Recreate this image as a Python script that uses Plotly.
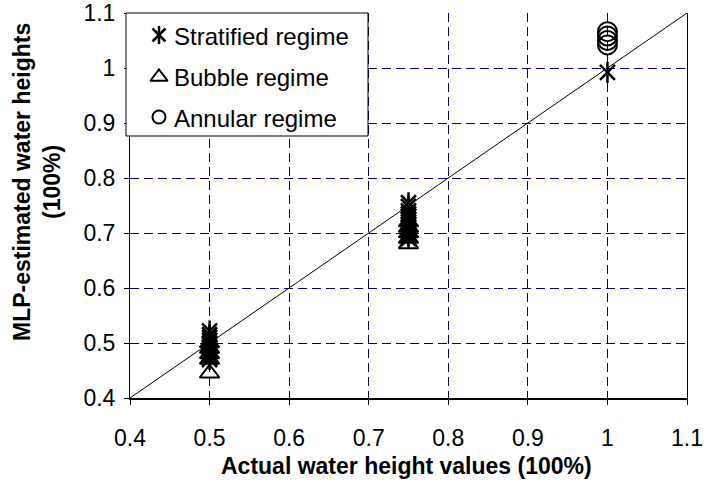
import plotly.graph_objects as go

# ---------------- data ----------------
strat_x = [0.5] * 12 + [0.75] * 13 + [1.0]
strat_y = [0.470, 0.475, 0.480, 0.485, 0.490, 0.493, 0.497, 0.500, 0.505, 0.510, 0.515, 0.522,
           0.690, 0.695, 0.700, 0.705, 0.710, 0.715, 0.720, 0.725, 0.730, 0.735, 0.740, 0.748, 0.755,
           0.992]
bubble_x = [0.5] * 5 + [0.75] * 5
bubble_y = [0.445, 0.470, 0.480, 0.490, 0.500,
            0.680, 0.690, 0.700, 0.710, 0.720]
annular_x = [1.0] * 4
annular_y = [1.042, 1.050, 1.058, 1.066]
ideal_x = [0.4, 1.1]
ideal_y = [0.4, 1.1]
x_ticks = [0.4, 0.5, 0.6, 0.7, 0.8, 0.9, 1.0, 1.1]
y_ticks = [0.4, 0.5, 0.6, 0.7, 0.8, 0.9, 1.0, 1.1]
legend_names = ["Stratified regime", "Bubble regime", "Annular regime"]

# ---------------- layout constants ----------------
W, H = 706, 486
PL, PR, PT, PB = 130, 687, 13, 398
FONT = "Liberation Sans, Arial, sans-serif"
GRID = "#000080"
INK = "black"


def px(x):
    return x / W


def py(y):
    return 1 - y / H


fig = go.Figure()

fig.add_trace(go.Scatter(x=ideal_x, y=ideal_y, mode="lines",
                         line=dict(color=INK, width=1), showlegend=False,
                         hoverinfo="skip"))
# stratified: six-armed star = X + vertical bar
for sym in ("x-thin-open", "line-ns-open"):
    fig.add_trace(go.Scatter(x=strat_x, y=strat_y, mode="markers", showlegend=False,
                             marker=dict(symbol=sym, size=15, color=INK,
                                         line=dict(color=INK, width=2.5))))
fig.add_trace(go.Scatter(x=bubble_x, y=bubble_y, mode="markers", showlegend=False,
                         marker=dict(symbol="triangle-up-open", size=17, color=INK,
                                     line=dict(color=INK, width=2))))
fig.add_trace(go.Scatter(x=annular_x, y=annular_y, mode="markers", showlegend=False,
                         marker=dict(symbol="circle-open", size=19, color=INK,
                                     line=dict(color=INK, width=2))))

# ---------- manual legend on a pixel-space overlay subplot ----------
leg_x = 159
leg_rows = [35, 76, 117]
for sym in ("x-thin-open", "line-ns-open"):
    fig.add_trace(go.Scatter(x=[leg_x], y=[leg_rows[0]], xaxis="x2", yaxis="y2", mode="markers",
                             showlegend=False, hoverinfo="skip",
                             marker=dict(symbol=sym, size=13, color=INK,
                                         line=dict(color=INK, width=2.5))))
fig.add_trace(go.Scatter(x=[leg_x], y=[leg_rows[1] + 1], xaxis="x2", yaxis="y2", mode="markers",
                         showlegend=False, hoverinfo="skip",
                         marker=dict(symbol="triangle-up-open", size=15, color=INK,
                                     line=dict(color=INK, width=2))))
fig.add_trace(go.Scatter(x=[leg_x], y=[leg_rows[2]], xaxis="x2", yaxis="y2", mode="markers",
                         showlegend=False, hoverinfo="skip",
                         marker=dict(symbol="circle-open", size=13, color=INK,
                                     line=dict(color=INK, width=2))))

annotations = []
for name, ry in zip(legend_names, leg_rows):
    annotations.append(dict(text=name, x=px(172), y=py(ry + 1), xref="paper", yref="paper",
                            xanchor="left", yanchor="middle", showarrow=False,
                            font=dict(family=FONT, size=24, color=INK)))
annotations.append(dict(text="<b>Actual water height values (100%)</b>",
                        x=px(406), y=py(466), xref="paper", yref="paper",
                        xanchor="center", yanchor="middle", showarrow=False,
                        font=dict(family=FONT, size=23, color=INK)))
annotations.append(dict(text="<b>MLP-estimated water heights<br>(100%)</b>",
                        x=px(37), y=py(182), xref="paper", yref="paper", textangle=-90,
                        xanchor="center", yanchor="middle", showarrow=False,
                        font=dict(family=FONT, size=23, color=INK)))

shapes = [
    dict(type="rect", xref="x2", yref="y2", x0=126, x1=368, y0=13, y1=136,
         line=dict(color=INK, width=1), fillcolor="white", layer="between"),
]

axis_font = dict(family=FONT, size=23, color=INK)
fig.update_layout(
    width=W, height=H, template="none",
    margin=dict(l=0, r=0, t=0, b=0, pad=0),
    paper_bgcolor="white", plot_bgcolor="rgba(0,0,0,0)",
    showlegend=False,
    xaxis=dict(domain=[px(PL), px(PR)], range=[0.4, 1.1], tickvals=x_ticks,
               tickfont=axis_font, showgrid=True, gridcolor=GRID, gridwidth=1,
               griddash="9px,5px", showline=True, linecolor=INK, linewidth=2,
               ticks="outside", ticklen=5, tickcolor=INK, zeroline=False,
               automargin=False, ticklabelstandoff=13, anchor="y"),
    yaxis=dict(domain=[py(PB), py(PT)], range=[0.4, 1.1], tickvals=y_ticks,
               tickfont=axis_font, showgrid=True, gridcolor=GRID, gridwidth=1,
               griddash="9px,5px", showline=True, linecolor=INK, linewidth=1,
               mirror=True, ticks="outside", ticklen=5, tickcolor=INK,
               zeroline=False, automargin=False, ticklabelstandoff=4, anchor="x"),
    xaxis2=dict(domain=[0, 1], range=[0, W], visible=False, anchor="y2", fixedrange=True),
    yaxis2=dict(domain=[0, 1], range=[H, 0], visible=False, anchor="x2", fixedrange=True),
    annotations=annotations,
    shapes=shapes,
)

fig.write_html(
    "out.html",
    config={"displayModeBar": False},
    post_script="document.body.style.margin='0';document.body.style.overflow='hidden';",
)
